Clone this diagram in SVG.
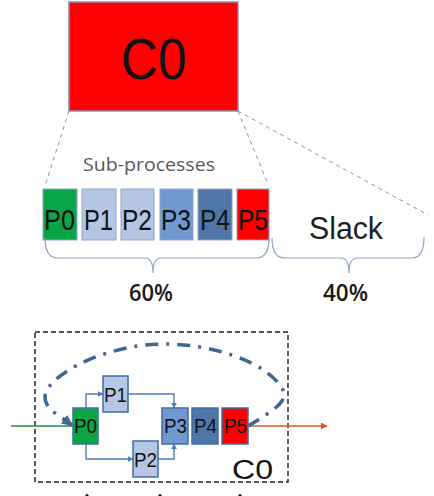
<svg xmlns="http://www.w3.org/2000/svg" width="434" height="496" viewBox="0 0 434 496">
  <style>
    .lbl { font-family: "Liberation Sans", Arial, sans-serif; fill: #111; }
    .soft { font-family: "Open Sans", "Liberation Sans", sans-serif; }
    .zoom { fill: none; stroke: #8094b6; stroke-width: 1; stroke-dasharray: 4 4; }
    .brace { fill: none; stroke: #8ea2c2; stroke-width: 1.2; }
    .row { stroke: #8ea6c8; stroke-width: 1; }
    .flow { stroke: #3f6ea5; stroke-width: 1.5; }
    .link { fill: none; stroke: #4a7ebb; stroke-width: 1.4; }
    .green { fill: #0aa544; }
    .light { fill: #b4c6e4; }
    .mid { fill: #7099d0; }
    .dark { fill: #4f76a7; }
    .red { fill: #ff0000; }
  </style>
  <defs>
    <marker id="tip" viewBox="0 0 10 10" refX="9" refY="5" markerWidth="6" markerHeight="6" orient="auto" markerUnits="userSpaceOnUse">
      <path d="M0,0 L10,5 L0,10 z" fill="#4a7ebb"/>
    </marker>
    <marker id="tipBig" viewBox="0 0 10 10" refX="9" refY="5" markerWidth="11" markerHeight="11" orient="auto" markerUnits="userSpaceOnUse">
      <path d="M0,0 L10,5 L0,10 z" fill="#3e6593"/>
    </marker>
    <marker id="tipOrange" viewBox="0 0 10 10" refX="9" refY="5" markerWidth="7" markerHeight="7" orient="auto" markerUnits="userSpaceOnUse">
      <path d="M0,0 L10,5 L0,10 z" fill="#e0502a"/>
    </marker>
  </defs>

  <!-- container block -->
  <g id="c0-top">
    <rect x="69" y="2" width="169" height="109" fill="#ff0000" stroke="#8a8fb0" stroke-width="1.5"/>
    <text class="lbl" x="121" y="79" font-size="57" textLength="66" lengthAdjust="spacingAndGlyphs">C0</text>
  </g>

  <!-- zoom-out guide lines -->
  <g id="guides">
    <line class="zoom" x1="69" y1="111" x2="45" y2="186"/>
    <line class="zoom" x1="238" y1="111" x2="268" y2="184"/>
    <line class="zoom" x1="238" y1="111" x2="428" y2="215"/>
  </g>

  <text class="soft" x="83" y="171" font-size="19" style="fill:#595959" textLength="132" lengthAdjust="spacingAndGlyphs">Sub-processes</text>

  <!-- sub-process strip -->
  <g id="strip-p0"><rect class="row green" x="43" y="189" width="34" height="51"/><text class="lbl" x="44" y="230" font-size="30" textLength="31" lengthAdjust="spacingAndGlyphs">P0</text></g>
  <g id="strip-p1"><rect class="row light" x="82" y="189" width="34" height="51"/><text class="lbl" x="84" y="230" font-size="30" textLength="29" lengthAdjust="spacingAndGlyphs">P1</text></g>
  <g id="strip-p2"><rect class="row light" x="121" y="189" width="33" height="51"/><text class="lbl" x="122" y="230" font-size="30" textLength="30" lengthAdjust="spacingAndGlyphs">P2</text></g>
  <g id="strip-p3"><rect class="row mid" x="160" y="189" width="33" height="51"/><text class="lbl" x="161" y="230" font-size="30" textLength="30" lengthAdjust="spacingAndGlyphs">P3</text></g>
  <g id="strip-p4"><rect class="row dark" x="198" y="189" width="34" height="51"/><text class="lbl" x="200" y="230" font-size="30" textLength="30" lengthAdjust="spacingAndGlyphs">P4</text></g>
  <g id="strip-p5"><rect class="row red" x="237" y="189" width="32" height="51"/><text class="lbl" x="238" y="230" font-size="30" textLength="30" lengthAdjust="spacingAndGlyphs">P5</text></g>

  <text class="lbl" x="309" y="239" font-size="31" style="fill:#222" textLength="74" lengthAdjust="spacingAndGlyphs">Slack</text>

  <!-- share braces -->
  <g id="braces">
    <path class="brace" d="M45,238 Q45,258 58,258 H145 Q153,258 153,273 Q153,258 161,258 H256 Q269,258 269,238"/>
    <path class="brace" d="M272,238 Q272,258 285,258 H341 Q349,258 349,273 Q349,258 357,258 H412 Q424,258 424,237"/>
  </g>
  <text class="soft" x="129" y="301" font-size="23" font-weight="600" style="fill:#1a1a1a" textLength="44" lengthAdjust="spacingAndGlyphs">60%</text>
  <text class="soft" x="323" y="301" font-size="23" font-weight="600" style="fill:#1a1a1a" textLength="45" lengthAdjust="spacingAndGlyphs">40%</text>

  <!-- process graph inside the container -->
  <g id="c0-frame">
    <rect x="35" y="332" width="253" height="150" fill="none" stroke="#222" stroke-width="1.5" stroke-dasharray="5 3"/>
    <text class="lbl" x="232" y="479" font-size="27" textLength="41" lengthAdjust="spacingAndGlyphs">C0</text>
  </g>

  <g id="connectors">
    <line x1="11" y1="426" x2="73" y2="426" stroke="#2e8b3e" stroke-width="1.3"/>
    <line x1="248" y1="426" x2="327" y2="426" stroke="#e0502a" stroke-width="1.3" marker-end="url(#tipOrange)"/>
    <path class="link" d="M86,408 V394 H103" marker-end="url(#tip)"/>
    <path class="link" d="M128,394 H174 V408" marker-end="url(#tip)"/>
    <path class="link" d="M86,444 V459 H133" marker-end="url(#tip)"/>
    <path class="link" d="M158,459 H174 V444" marker-end="url(#tip)"/>
    <path d="M248,426 C266,415 290,402 283,390 C268,362 212,344 165,344 C112,344 62,368 48,388 C41,399 47,408 58,415 L72,425" fill="none" stroke="#3e6593" stroke-width="3.5" stroke-dasharray="13 8 3 8" marker-end="url(#tipBig)"/>
    <!-- arrow tips entering from below -->
    <path d="M85,496 L87,493.5 L89,496 z" fill="#111"/>
    <path d="M158,496 L160,493.5 L162,496 z" fill="#111"/>
    <path d="M238,496 L240,493.5 L242,496 z" fill="#111"/>
  </g>

  <g id="p0"><rect class="flow green" x="73" y="408" width="25" height="36"/><text class="lbl" x="74" y="433" font-size="21" textLength="23" lengthAdjust="spacingAndGlyphs">P0</text></g>
  <g id="p1"><rect class="flow light" x="103" y="376" width="25" height="36"/><text class="lbl" x="104" y="402" font-size="21" textLength="23" lengthAdjust="spacingAndGlyphs">P1</text></g>
  <g id="p2"><rect class="flow light" x="133" y="441" width="25" height="36"/><text class="lbl" x="134" y="467" font-size="21" textLength="23" lengthAdjust="spacingAndGlyphs">P2</text></g>
  <g id="p3"><rect class="flow mid" x="162" y="408" width="26" height="36"/><text class="lbl" x="164" y="433" font-size="21" textLength="23" lengthAdjust="spacingAndGlyphs">P3</text></g>
  <g id="p4"><rect class="flow dark" x="192" y="408" width="26" height="36"/><text class="lbl" x="194" y="433" font-size="21" textLength="23" lengthAdjust="spacingAndGlyphs">P4</text></g>
  <g id="p5"><rect class="flow red" x="222" y="408" width="26" height="36"/><text class="lbl" x="224" y="433" font-size="21" textLength="23" lengthAdjust="spacingAndGlyphs">P5</text></g>
</svg>
